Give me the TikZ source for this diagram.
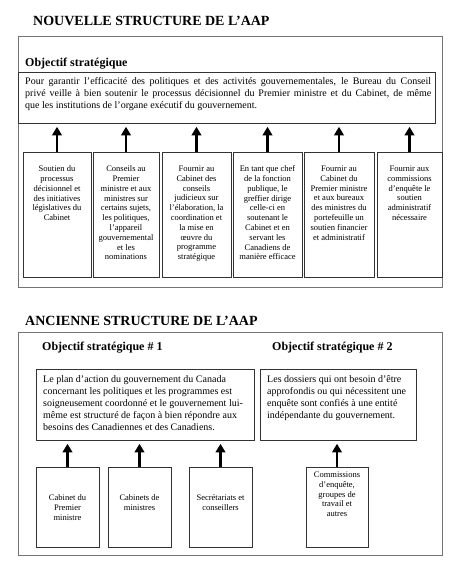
\documentclass[tikz,border=0pt]{standalone}
\usepackage{fontspec}
\setmainfont{Liberation Serif}
\usetikzlibrary{positioning,arrows.meta}
\tikzstyle{arrow} = [line width=2.6pt,-{Triangle[width=9.5pt,length=8.5pt]},shorten >=3pt]
\tikzstyle{frame} = [draw=black!55,line width=0.9pt]
\tikzstyle{box} = [draw=black!80,line width=0.8pt,inner sep=0pt]
\tikzstyle{small} = [font=\fontsize{8.5}{9.8}\selectfont,align=center,inner sep=0pt]
\tikzstyle{body} = [font=\fontsize{10}{12}\selectfont,align=left,inner sep=0pt,anchor=north west]
\tikzstyle{title} = [font=\fontsize{14}{16}\selectfont\bfseries,anchor=base west,inner sep=0pt]
\tikzstyle{head} = [font=\fontsize{12}{14}\selectfont\bfseries,anchor=base west,inner sep=0pt]

\begin{document}
\begin{tikzpicture}[x=1pt,y=-1pt]
\useasboundingbox (0,0) rectangle (462,567);
% nouvelle structure
\node[title] (newtitle) at (33,26) {NOUVELLE STRUCTURE DE L’AAP};
\draw[frame] (18,36) rectangle (442,287);
\node[head] (newhead) at (25,67) {Objectif stratégique};
\node[box,minimum width=417,minimum height=51,anchor=north west] (newobj) at (18,72) {};
\node[body,text width=406,align=justify] (newtext) at (25,77) {Pour garantir l’efficacité des politiques et des activités gouvernementales, le Bureau du Conseil\linebreak
privé veille à bien soutenir le processus décisionnel du Premier ministre et du Cabinet, de même\linebreak
que les institutions de l’organe exécutif du gouvernement.};
\node[box,minimum width=68,minimum height=125] (n1) at (57,214.5) {};
\node[box,minimum width=66,minimum height=125] (n2) at (126,214.5) {};
\node[box,minimum width=69,minimum height=125] (n3) at (196.5,214.5) {};
\node[box,minimum width=69,minimum height=125] (n4) at (267.5,214.5) {};
\node[box,minimum width=70,minimum height=125] (n5) at (339,214.5) {};
\node[box,minimum width=65,minimum height=125] (n6) at (409.5,214.5) {};
\node[small,below=14pt of n1.north] {Soutien du\\ processus\\ décisionnel et\\ des initiatives\\ législatives du\\ Cabinet};
\node[small,below=14pt of n2.north] {Conseils au\\ Premier\\ ministre et aux\\ ministres sur\\ certains sujets,\\ les politiques,\\ l'appareil\\ gouvernemental\\ et les\\ nominations};
\node[small,below=14pt of n3.north] {Fournir au\\ Cabinet des\\ conseils\\ judicieux sur\\ l’élaboration, la\\ coordination et\\ la mise en\\ œuvre du\\ programme\\ stratégique};
\node[small,below=14pt of n4.north] {En tant que chef\\ de la fonction\\ publique, le\\ greffier dirige\\ celle-ci en\\ soutenant le\\ Cabinet et en\\ servant les\\ Canadiens de\\ manière efficace};
\node[small,below=14pt of n5.north] {Fournir au\\ Cabinet du\\ Premier ministre\\ et aux bureaux\\ des ministres du\\ portefeuille un\\ soutien financier\\ et administratif};
\node[small,below=14pt of n6.north] {Fournir aux\\ commissions\\ d’enquête le\\ soutien\\ administratif\\ nécessaire};
\foreach \b in {n1,n2,n3,n4,n5,n6}
  \draw[arrow] (\b.north) -- (\b.north |- newobj.south);
% ancienne structure
\node[title] (oldtitle) at (25,325) {ANCIENNE STRUCTURE DE L’AAP};
\draw[frame] (18,332) rectangle (442,555);
\node[head] (oldhead1) at (42,350) {Objectif stratégique \# 1};
\node[head] (oldhead2) at (272,350) {Objectif stratégique \# 2};
\node[box,minimum width=218,minimum height=71,anchor=north west] (oldobj1) at (36,369) {};
\node[box,minimum width=156,minimum height=71,anchor=north west] (oldobj2) at (260,369) {};
\node[body] (oldtext1) at (43,375) {Le plan d’action du gouvernement du Canada\\
concernant les politiques et les programmes est\\
soigneusement coordonné et le gouvernement lui-\\
même est structuré de façon à bien répondre aux\\
besoins des Canadiennes et des Canadiens.};
\node[body] (oldtext2) at (267,375) {Les dossiers qui ont besoin d’être\\
approfondis ou qui nécessitent une\\
enquête sont confiés à une entité\\
indépendante du gouvernement.};
\node[box,minimum width=63,minimum height=80] (a1) at (67.5,507) {};
\node[box,minimum width=63,minimum height=80] (a2) at (139.5,507) {};
\node[box,minimum width=63,minimum height=80] (a3) at (220.5,507) {};
\node[box,minimum width=62,minimum height=80] (a4) at (337,507) {};
\node[small,below=28pt of a1.north] {Cabinet du\\ Premier\\ ministre};
\node[small,below=28pt of a2.north] {Cabinets de\\ ministres};
\node[small,below=28pt of a3.north] {Secrétariats et\\ conseillers};
\node[small,below=5pt of a4.north] {Commissions\\ d’enquête,\\ groupes de\\ travail et\\ autres};
\foreach \b in {a1,a2,a3}
  \draw[arrow] (\b.north) -- (\b.north |- oldobj1.south);
\draw[arrow] (a4.north) -- (a4.north |- oldobj2.south);
\end{tikzpicture}
\end{document}
